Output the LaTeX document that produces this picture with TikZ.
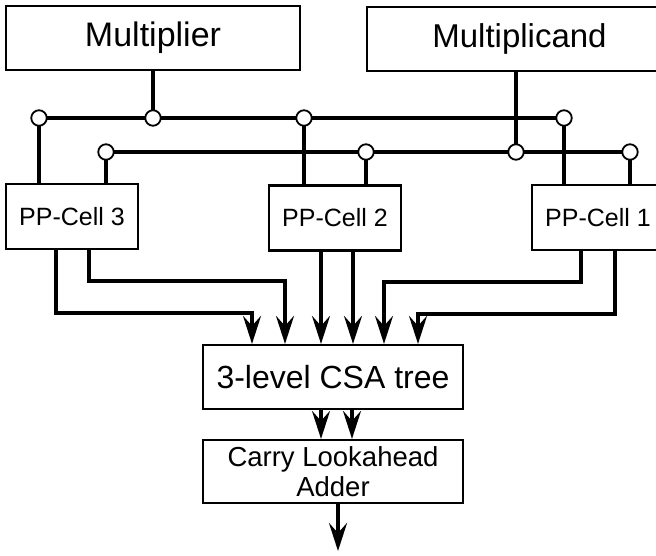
\documentclass[tikz,border=0pt]{standalone}
\usepackage{fontspec}
\setmainfont{Liberation Sans}
\usetikzlibrary{arrows.meta}

\begin{document}
\begin{tikzpicture}[x=1pt,y=-1pt,
  blk/.style={draw,line width=2.2pt,inner sep=0pt,fill=white},
  junc/.style={circle,draw,line width=1.8pt,fill=white,minimum size=15.5pt,inner sep=0pt},
  bus/.style={line width=3.8pt},
  wire/.style={line width=3.6pt},
  arr/.style={line width=3.6pt,-{Stealth[length=28pt,width=18pt,inset=10pt]}}]

\useasboundingbox (0,0) rectangle (656,555);
\clip (0,0) rectangle (656,555);

% operand registers
\node[blk,minimum width=294pt,minimum height=64pt,font=\fontsize{34}{37}\selectfont]
  (mult) at (153,38) {Multiplier};
\node[blk,minimum width=305pt,minimum height=64pt,font=\fontsize{33}{36}\selectfont]
  (mcand) at (519.5,39) {Multiplicand};

% partial product cells
\tikzset{ppbox/.style={blk,minimum width=132pt,minimum height=65pt,font=\fontsize{25}{28}\selectfont}}
\node[ppbox] (pp3) at (72,216.5) {PP-Cell 3};
\node[ppbox] (pp2) at (335,218) {PP-Cell 2};
\node[ppbox] (pp1) at (598,217.5) {PP-Cell 1};

% reduction tree and final adder
\node[blk,minimum width=260pt,minimum height=64pt,font=\fontsize{32}{35}\selectfont]
  (csa) at (333,377) {3-level CSA tree};
\node[blk,minimum width=260pt,minimum height=63pt,align=center,font=\fontsize{27.5}{30}\selectfont]
  (cla) at (333,471.5) {Carry Lookahead\\Adder};

% bus taps
\coordinate (t1) at (39,118);
\coordinate (t2) at (153,118);
\coordinate (t3) at (304,118);
\coordinate (t4) at (564,118);
\coordinate (b1) at (106,152);
\coordinate (b2) at (366,152);
\coordinate (b3) at (516,152);
\coordinate (b4) at (630,152);
\coordinate (out) at (338,551);

% multiplier bus (upper)
\draw[bus] (t1) -- (t4);
\draw[wire] (mult.south -| t2) -- (t2);
\draw[wire] (t1) -- (t1 |- pp3.north);
\draw[wire] (t3) -- (t3 |- pp2.north);
\draw[wire] (t4) -- (t4 |- pp1.north);

% multiplicand bus (lower)
\draw[bus] (b1) -- (b4);
\draw[wire] (mcand.south -| b3) -- (b3);
\draw[wire] (b1) -- (b1 |- pp3.north);
\draw[wire] (b2) -- (b2 |- pp2.north);
\draw[wire] (b4) -- (b4 |- pp1.north);

% junction dots
\foreach \p in {t1,t2,t3,t4,b1,b2,b3,b4}
  \node[junc] at (\p) {};

% partial products into the CSA tree
\draw[arr] ([xshift=-16pt]pp3.south) -- ++(0,63) -| ([xshift=-81pt]csa.north);
\draw[arr] ([xshift=17pt]pp3.south) -- ++(0,31) -| ([xshift=-48pt]csa.north);
\draw[arr] ([xshift=-14pt]pp2.south) -- ([xshift=-14pt]pp2.south |- csa.north);
\draw[arr] ([xshift=18pt]pp2.south) -- ([xshift=18pt]pp2.south |- csa.north);
\draw[arr] ([xshift=-17pt]pp1.south) -- ++(0,31) -| ([xshift=51pt]csa.north);
\draw[arr] ([xshift=17pt]pp1.south) -- ++(0,63) -| ([xshift=85pt]csa.north);

% sum and carry into the adder
\draw[arr] ([xshift=-12pt]csa.south) -- ([xshift=-12pt]csa.south |- cla.north);
\draw[arr] ([xshift=19pt]csa.south) -- ([xshift=19pt]csa.south |- cla.north);

% product out
\draw[arr] (cla.south -| out) -- (out);

\end{tikzpicture}
\end{document}
